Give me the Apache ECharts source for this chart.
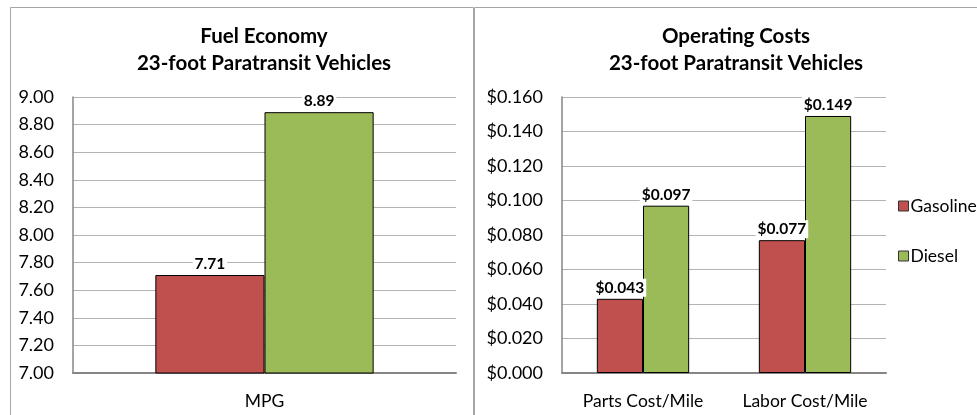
<!DOCTYPE html>
<html>
<head>
<meta charset="utf-8">
<script src="https://cdn.jsdelivr.net/npm/echarts@6/dist/echarts.min.js"></script>
<style>
  html, body { margin: 0; padding: 0; background: #fff; }
  #chart { width: 977px; height: 415px; }
</style>
</head>
<body>
<div id="chart"></div>
<script>
// fuel economy panel
const mpgCategories = ['MPG'];
const mpgGasoline = [7.71];
const mpgDiesel = [8.89];

// operating costs panel
const costCategories = ['Parts Cost/Mile', 'Labor Cost/Mile'];
const costGasoline = [0.043, 0.077];
const costDiesel = [0.097, 0.149];

const seriesNames = ['Gasoline', 'Diesel'];
const RED = '#C0504D';
const GREEN = '#9BBB59';
const FONT = 'Lato';

const myChart = echarts.init(document.getElementById('chart'));

const labelStyle = (fmt) => ({
    show: true,
    position: 'top',
    distance: 2,
    fontFamily: FONT,
    fontWeight: 'bold',
    fontSize: 15.5,
    color: '#000',
    backgroundColor: '#fff',
    padding: [1, 2],
    formatter: fmt,
});

const axisLabel = (fmt, size) => ({
    fontFamily: FONT,
    fontSize: size,
    color: '#000',
    margin: 19,
    interval: 0,
    hideOverlap: false,
    formatter: fmt,
});

const titleStyle = {
    fontFamily: FONT,
    fontSize: 20.5,
    fontWeight: 'bold',
    color: '#000',
    lineHeight: 27,
};

const dollars = (v) => '$' + Number(v).toFixed(3);

const option = {
    backgroundColor: '#fff',
    animation: false,
    title: [
        {text: 'Fuel Economy\n23-foot Paratransit Vehicles', left: 259, top: 18, textAlign: 'center', textStyle: titleStyle},
        {text: 'Operating Costs\n23-foot Paratransit Vehicles', left: 731, top: 18, textAlign: 'center', textStyle: titleStyle},
    ],
    legend: {
        data: seriesNames,
        orient: 'vertical',
        left: 893,
        top: 192,
        itemWidth: 10,
        itemHeight: 10,
        itemGap: 32,
        icon: 'rect',
        textStyle: {fontFamily: FONT, fontSize: 17.5, color: '#000', padding: [0, 0, 0, -3]},
        itemStyle: {borderColor: '#333', borderWidth: 1},
    },
    graphic: [
        {type: 'rect', shape: {x: 10.5, y: 7.5, width: 463, height: 420}, style: {fill: 'none', stroke: '#a6a6a6', lineWidth: 1}},
        {type: 'rect', shape: {x: 474.5, y: 7.5, width: 520, height: 420}, style: {fill: 'none', stroke: '#a6a6a6', lineWidth: 1}},
    ],
    grid: [
        {left: 73, right: 521, top: 97, bottom: 42},
        {left: 562, right: 91, top: 97, bottom: 42},
    ],
    xAxis: [
        {
            type: 'category', gridIndex: 0, data: mpgCategories,
            axisLine: {lineStyle: {color: '#868686', width: 2}},
            axisTick: {show: false},
            axisLabel: axisLabel(null, 17.5),
        },
        {
            type: 'category', gridIndex: 1, data: costCategories,
            axisLine: {lineStyle: {color: '#868686', width: 2}},
            axisTick: {show: false},
            axisLabel: axisLabel(null, 17.5),
        },
    ],
    yAxis: [
        {
            type: 'value', gridIndex: 0, min: 7, max: 9, interval: 0.2,
            axisLine: {show: true, lineStyle: {color: '#868686', width: 1.5}},
            axisTick: {show: false},
            splitLine: {lineStyle: {color: '#b3b3b3'}},
            axisLabel: axisLabel((v) => v.toFixed(2), 18),
        },
        {
            type: 'value', gridIndex: 1, min: 0, max: 0.16, interval: 0.02,
            axisLine: {show: true, lineStyle: {color: '#868686', width: 1.5}},
            axisTick: {show: false},
            splitLine: {lineStyle: {color: '#b3b3b3'}},
            axisLabel: axisLabel(dollars, 18),
        },
    ],
    series: [
        {
            name: 'Gasoline', type: 'bar', xAxisIndex: 0, yAxisIndex: 0, data: mpgGasoline,
            barGap: '0%', barCategoryGap: '43%',
            itemStyle: {color: RED, borderColor: '#000', borderWidth: 1},
            label: labelStyle((p) => p.value.toFixed(2)),
        },
        {
            name: 'Diesel', type: 'bar', xAxisIndex: 0, yAxisIndex: 0, data: mpgDiesel,
            barGap: '0%', barCategoryGap: '43%',
            itemStyle: {color: GREEN, borderColor: '#000', borderWidth: 1},
            label: labelStyle((p) => p.value.toFixed(2)),
        },
        {
            name: 'Gasoline', type: 'bar', xAxisIndex: 1, yAxisIndex: 1, data: costGasoline,
            barGap: '0%', barCategoryGap: '43%',
            itemStyle: {color: RED, borderColor: '#000', borderWidth: 1},
            label: labelStyle((p) => dollars(p.value)),
        },
        {
            name: 'Diesel', type: 'bar', xAxisIndex: 1, yAxisIndex: 1, data: costDiesel,
            barGap: '0%', barCategoryGap: '43%',
            itemStyle: {color: GREEN, borderColor: '#000', borderWidth: 1},
            label: labelStyle((p) => dollars(p.value)),
        },
    ],
};

myChart.setOption(option);
window.addEventListener('resize', myChart.resize);
</script>
</body>
</html>
